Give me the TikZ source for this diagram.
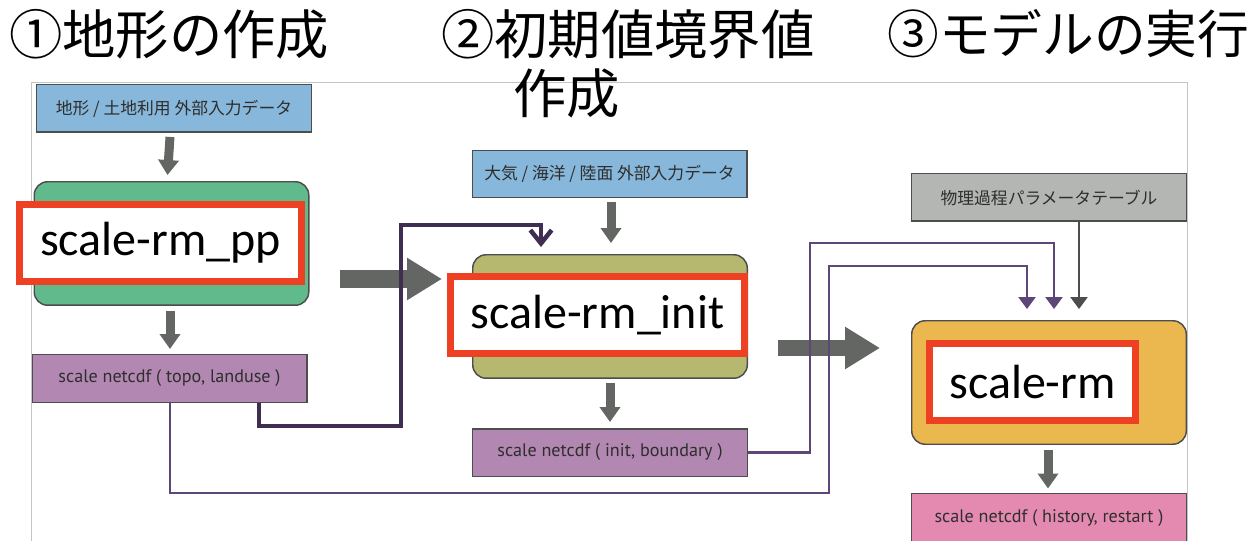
\documentclass[tikz,border=0pt]{standalone}
\usepackage{fontspec}
\newfontfamily\cjk{Noto Sans CJK JP}
\newfontfamily\calfont{Carlito}
\newfontfamily\smallfont{PT Sans}
\usetikzlibrary{arrows.meta,calc}
\definecolor{blueF}{HTML}{87B7DA}
\definecolor{greenF}{HTML}{60BA8B}
\definecolor{oliveF}{HTML}{B6B86F}
\definecolor{orangeF}{HTML}{EBB84F}
\definecolor{grayF}{HTML}{B4B6B3}
\definecolor{purpleF}{HTML}{B287B1}
\definecolor{pinkF}{HTML}{E48AB0}
\definecolor{redL}{HTML}{EE4023}
\definecolor{arrowgray}{HTML}{646664}
\definecolor{boxline}{HTML}{4D4D4D}
\definecolor{darkpurple}{HTML}{3F2E51}
\definecolor{midpurple}{HTML}{5C4778}
\definecolor{textgray}{HTML}{2E2E2E}
\definecolor{frameG}{HTML}{C4C4C4}
\tikzset{
  databox/.style={draw=boxline, line width=1.1pt, minimum width=205.9pt, minimum height=35.6pt, inner sep=0pt, text=textgray},
  jtext/.style={font=\cjk\fontsize{12.6}{14}\selectfont},
  etext/.style={font=\smallfont\fontsize{13.6}{16}\selectfont},
  procbox/.style={draw=boxline, line width=1.1pt, rounded corners=10pt, minimum width=205.9pt, minimum height=92.6pt, inner sep=0pt},
  redbox/.style={draw=redL, fill=white, line width=5.25pt, minimum height=57.75pt, inner sep=0pt, font=\calfont\fontsize{36}{40}\selectfont},
  titletext/.style={font=\cjk\fontsize{40}{46}\selectfont, inner sep=0pt, anchor=west},
  garrow/.style={draw=arrowgray, line width=6.75pt, -{Triangle[length=11.25pt, width=15pt]}},
  bigarrow/.style={draw=arrowgray, -{Triangle[length=26.25pt, width=30pt]}},
  thickpurple/.style={draw=darkpurple, line width=3.4pt, -{Straight Barb[length=10pt, width=16pt]}},
  thinpurple/.style={draw=midpurple, line width=1.8pt, -{Triangle[length=9pt, width=12.75pt]}},
  thingray/.style={draw=boxline, line width=1.8pt, -{Triangle[length=9pt, width=12.75pt]}}
}
\begin{document}
\begin{tikzpicture}[x=0.75pt,y=-0.75pt]
\useasboundingbox (0,0) rectangle (1256,541);
\clip (0,0) rectangle (1256,541);
% frame of the inset picture
\draw[frameG, line width=0.75pt] (31,545) -- (31,83) -- (1187,83) -- (1187,545);

% titles
\node[titletext] (t1) at (9,34) {①地形の作成};
\node[titletext] (t2a) at (441,34) {②初期値境界値};
\node[titletext] (t2b) at (513,93) {作成};
\node[titletext, font=\cjk\fontsize{38.8}{46}\selectfont] (t3) at (887,34) {③モデルの実行};

% column 1
\node[databox, fill=blueF, jtext] (in1) at (174,108.5) {地形 / 土地利用 外部入力データ};
\node[procbox, fill=greenF] (pp) at (171.5,243.5) {};
\node[redbox, minimum width=211.5pt] (ppred) at (160.5,243) {scale-rm\_pp};
\node[databox, fill=purpleF, etext] (out1) at (169.5,378.5) {scale netcdf ( topo, landuse )};

% column 2
\node[databox, fill=blueF, jtext] (in2) at (609.5,174) {大気 / 海洋 / 陸面 外部入力データ};
\node[procbox, fill=oliveF] (init) at (610,316.5) {};
\node[redbox, minimum width=220.5pt] (initred) at (597.5,315) {scale-rm\_init};
\node[databox, fill=purpleF, etext] (out2) at (610,452.5) {scale netcdf ( init, boundary )};

% column 3
\node[databox, fill=grayF, jtext] (tbl) at (1049,197.5) {物理過程パラメータテーブル};
\node[procbox, fill=orangeF] (rm) at (1049,382.5) {};
\node[redbox, minimum width=154.5pt] (rmred) at (1032.5,382) {scale-rm};
\node[databox, fill=pinkF, etext, minimum height=37.9pt] (out3) at (1049,518.5) {scale netcdf ( history, restart )};

% small gray arrows
\draw[garrow] ($(in1.south)+(-4,4)$) -- ($(pp.north)+(-4,-6)$);
\draw[garrow] ($(pp.south)+(-1.5,5)$) -- ($(out1.north)+(0.5,-5)$);
\draw[garrow] ($(in2.south)+(1.5,4)$) -- ($(init.north)+(1,-11)$);
\draw[garrow] ($(init.south)+(0,4)$) -- ($(out2.north)+(0,-6)$);
\draw[garrow] ($(rm.south)+(-1,5)$) -- ($(out3.north)+(-1,-4)$);

% big gray arrows
\draw[bigarrow, line width=13.5pt] ($(pp.east)+(30,35.5)$) -- ($(initred.west)+(-5,-36)$);
\draw[bigarrow, line width=12pt] ($(init.east)+(30,31.5)$) -- ($(rm.west)+(-31,-34.5)$);

% purple connectors
\draw[thickpurple] ($(out1.south)+(89.5,0)$) -- ++(0,23) -| (401,225) -| ($(init.north)+(-69,-7)$);
\draw[thinpurple] ($(out1.south)+(0.5,0)$) |- (829,493) |- (1027,266) -- ($(rm.north)+(-22,-11)$);
\draw[thinpurple] (out2.east) -| (810,243) -| ($(rm.north)+(5,-11)$);
\draw[thingray] ($(tbl.south)+(30,0)$) -- ($(rm.north)+(30,-11)$);
\end{tikzpicture}
\end{document}
